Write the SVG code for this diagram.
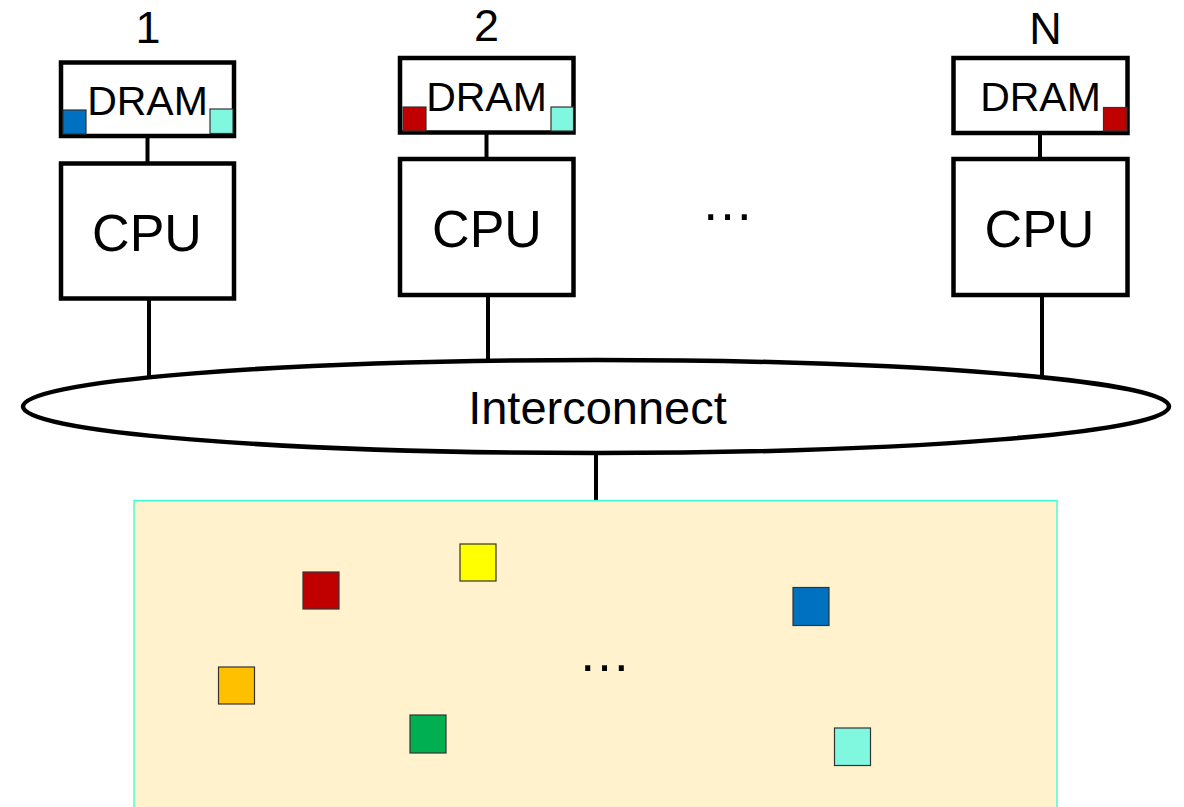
<svg xmlns="http://www.w3.org/2000/svg" width="1184" height="807" viewBox="0 0 1184 807">
  <style>
    .box { fill: #ffffff; stroke: #000000; stroke-width: 4.5; }
    .wire { stroke: #000000; stroke-width: 4; fill: none; }
    .lbl { font-family: "Liberation Sans", Arial, sans-serif; fill: #000000; text-anchor: middle; }
    .dram { font-size: 41px; }
    .cpu { font-size: 52px; }
    .num { font-size: 45px; }
    .dots { font-size: 53px; }
    .blk { stroke: #333333; stroke-width: 1.2; }
    .c-blue { fill: #0070c0; }
    .c-cyan { fill: #80f8e0; }
    .c-red { fill: #c00000; }
    .c-yellow { fill: #ffff00; }
    .c-orange { fill: #ffc000; }
    .c-green { fill: #00b050; }
  </style>
  <rect width="1184" height="807" fill="#ffffff"/>

  <!-- connectors -->
  <g id="connectors">
    <line class="wire" x1="147.5" y1="138" x2="147.5" y2="162"/>
    <line class="wire" x1="486.5" y1="134" x2="486.5" y2="158"/>
    <line class="wire" x1="1040" y1="135" x2="1040" y2="158"/>
    <line class="wire" x1="149" y1="298" x2="149" y2="378"/>
    <line class="wire" x1="488" y1="295" x2="488" y2="360"/>
    <line class="wire" x1="1042" y1="295" x2="1042" y2="378"/>
    <line class="wire" x1="596" y1="452" x2="596" y2="501"/>
  </g>

  <!-- shared memory -->
  <g id="memory">
    <rect x="134" y="500.5" width="923" height="320" fill="#fff2cc" stroke="#33ffcc" stroke-width="1.3"/>
    <rect class="blk c-red" x="303" y="572" width="36" height="37"/>
    <rect class="blk c-yellow" x="460" y="544" width="36" height="37"/>
    <rect class="blk c-orange" x="218.5" y="667" width="36" height="37"/>
    <rect class="blk c-green" x="410" y="715" width="36" height="38"/>
    <rect class="blk c-blue" x="793" y="587.5" width="36" height="38"/>
    <rect class="blk c-cyan" x="834.5" y="728" width="36" height="37.5"/>
    <text class="lbl dots" x="604.5" y="671">…</text>
  </g>

  <!-- interconnect -->
  <g id="interconnect">
    <ellipse cx="596" cy="406.5" rx="573" ry="46.5" fill="#ffffff" stroke="#000000" stroke-width="4.5"/>
    <text class="lbl" x="597.5" y="424" font-size="47">Interconnect</text>
  </g>

  <!-- node 1 -->
  <g id="node1">
    <text class="lbl num" x="148" y="43">1</text>
    <rect class="box" x="61" y="62.5" width="173" height="73.5"/>
    <text class="lbl dram" x="147.5" y="115">DRAM</text>
    <rect class="blk c-blue" x="63" y="110" width="23" height="24"/>
    <rect class="blk c-cyan" x="210" y="109" width="23" height="24.5"/>
    <rect class="box" x="61" y="163.5" width="173" height="135"/>
    <text class="lbl cpu" x="147" y="251">CPU</text>
  </g>

  <!-- node 2 -->
  <g id="node2">
    <text class="lbl num" x="486.5" y="41">2</text>
    <rect class="box" x="400" y="58" width="173.5" height="74.5"/>
    <text class="lbl dram" x="486.5" y="111">DRAM</text>
    <rect class="blk c-red" x="403" y="107" width="23" height="24"/>
    <rect class="blk c-cyan" x="551" y="107" width="22.5" height="24"/>
    <rect class="box" x="400" y="159" width="173.5" height="136"/>
    <text class="lbl cpu" x="487" y="247">CPU</text>
  </g>

  <!-- ellipsis between nodes -->
  <text class="lbl dots" x="727.5" y="219.5">…</text>

  <!-- node N -->
  <g id="nodeN">
    <text class="lbl num" x="1045.5" y="43.5">N</text>
    <rect class="box" x="953.5" y="58" width="174" height="75"/>
    <text class="lbl dram" x="1040.5" y="111">DRAM</text>
    <rect class="blk c-red" x="1103.5" y="107.5" width="23.5" height="23.5"/>
    <rect class="box" x="953.5" y="159" width="174" height="136"/>
    <text class="lbl cpu" x="1039.5" y="247">CPU</text>
  </g>
</svg>
